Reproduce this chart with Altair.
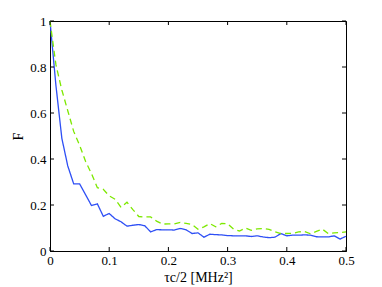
import altair as alt
import pandas as pd

# ---- data ----
x_vals = [round(i * 0.01, 2) for i in range(51)]
blue_vals = [1.00, 0.72, 0.49, 0.37, 0.292, 0.292, 0.245, 0.198, 0.205, 0.151,
             0.163, 0.140, 0.127, 0.108, 0.112, 0.115, 0.110, 0.083, 0.093, 0.092,
             0.092, 0.091, 0.098, 0.092, 0.076, 0.079, 0.060, 0.073, 0.071, 0.070,
             0.067, 0.066, 0.066, 0.066, 0.063, 0.066, 0.061, 0.058, 0.060, 0.076,
             0.066, 0.069, 0.069, 0.070, 0.069, 0.062, 0.061, 0.061, 0.066, 0.052,
             0.064]
green_vals = [1.00, 0.81, 0.70, 0.61, 0.52, 0.46, 0.39, 0.337, 0.275, 0.268,
              0.240, 0.225, 0.190, 0.212, 0.180, 0.150, 0.148, 0.148, 0.130, 0.117,
              0.118, 0.118, 0.124, 0.120, 0.115, 0.095, 0.105, 0.119, 0.105, 0.120,
              0.118, 0.095, 0.087, 0.100, 0.090, 0.096, 0.098, 0.094, 0.083, 0.076,
              0.076, 0.077, 0.083, 0.085, 0.075, 0.085, 0.095, 0.076, 0.079, 0.080,
              0.083]
series_names = ["blue", "green"]
x_ticks = [0, 0.1, 0.2, 0.3, 0.4, 0.5]
y_ticks = [0, 0.2, 0.4, 0.6, 0.8, 1.0]

W, H = 296, 230
FONT = "Liberation Serif"
TL = 4

df = pd.DataFrame({
    "x": x_vals * 2,
    "F": blue_vals + green_vals,
    "s": [series_names[0]] * len(x_vals) + [series_names[1]] * len(x_vals),
})
xt = pd.DataFrame({"t": x_ticks})
yt = pd.DataFrame({"t": y_ticks})

xs = alt.Scale(domain=[0, 0.5], nice=False, zero=False)
ys = alt.Scale(domain=[0, 1], nice=False, zero=False)

lines = alt.Chart(df).mark_line(strokeWidth=1.3).encode(
    x=alt.X("x:Q", scale=xs,
            axis=alt.Axis(values=x_ticks, format="~g", title="τc/2 [MHz²]",
                          ticks=False, grid=False, labelPadding=3, titlePadding=3,
                          labelFlush=False)),
    y=alt.Y("F:Q", scale=ys,
            axis=alt.Axis(values=y_ticks, format="~g", title="F",
                          ticks=False, grid=False, labelPadding=4, titlePadding=4,
                          labelFlush=False)),
    color=alt.Color("s:N", scale=alt.Scale(domain=series_names,
                                           range=["#2e4ff5", "#7de800"]), legend=None),
    strokeDash=alt.StrokeDash("s:N", scale=alt.Scale(domain=series_names,
                                                     range=[[1, 0], [6, 4]]), legend=None),
)

tick_col = "#000000"
bottom = alt.Chart(xt).mark_rule(color=tick_col, strokeWidth=1).encode(
    x=alt.X("t:Q", scale=xs), y=alt.value(H), y2=alt.value(H - TL))
top = alt.Chart(xt).mark_rule(color=tick_col, strokeWidth=1).encode(
    x=alt.X("t:Q", scale=xs), y=alt.value(0), y2=alt.value(TL))
left = alt.Chart(yt).mark_rule(color=tick_col, strokeWidth=1).encode(
    y=alt.Y("t:Q", scale=ys), x=alt.value(0), x2=alt.value(TL))
right = alt.Chart(yt).mark_rule(color=tick_col, strokeWidth=1).encode(
    y=alt.Y("t:Q", scale=ys), x=alt.value(W), x2=alt.value(W - TL))

chart = alt.layer(lines, bottom, top, left, right).properties(
    width=W, height=H,
    background="white",
    autosize=alt.AutoSizeParams(type="none"),
    padding={"left": 42, "top": 13, "right": 20, "bottom": 34},
).configure_view(
    stroke="black", strokeWidth=1
).configure_axis(
    domainColor="black", domainWidth=1,
    labelFont=FONT, labelFontSize=13, labelColor="black",
    titleFont=FONT, titleFontSize=14, titleColor="black", titleFontWeight="normal",
)

chart.save("out.html", embed_options={"renderer": "svg", "actions": False})
